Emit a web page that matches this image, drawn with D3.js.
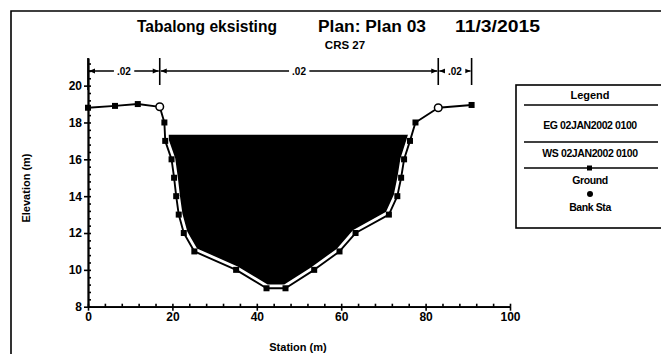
<!DOCTYPE html>
<html>
<head>
<meta charset="utf-8">
<script src="https://cdn.jsdelivr.net/npm/d3@7"></script>
<style>
  body { margin: 0; background: #fff; }
  text { font-family: "Liberation Sans", Arial, sans-serif; font-weight: bold; fill: #000; }
</style>
</head>
<body>
<svg id="chart" width="661" height="354"></svg>
<script>
// Cross section CRS 27 — ground survey points (station m, elevation m)
const stations   = [0, 6.4, 11.8, 17.0, 18.1, 18.3, 19.8, 20.4, 20.9, 21.5, 22.7, 25.2, 35.1, 42.3,
                    46.8, 53.6, 59.6, 63.4, 71.3, 73.3, 74.2, 74.9, 76.3, 77.6, 83.0, 90.9];
const elevations = [18.8, 18.9, 19.0, 18.85, 18.0, 17.0, 16.0, 15.0, 14.0, 13.0, 12.0, 11.0, 10.0, 9.0,
                    9.0, 10.0, 11.0, 12.0, 13.0, 14.0, 15.0, 16.0, 17.0, 18.0, 18.8, 18.95];
const bankStations = [17.0, 83.0];
const wsElevation = 17.33;          // WS 02JAN2002 0100
const nBreaks = [0, 17.0, 83.0, 90.9];
const nValues = [".02", ".02", ".02"];
const xTicks = [0, 20, 40, 60, 80, 100];
const yTicks = [8, 10, 12, 14, 16, 18, 20];
const titleParts = ["Tabalong eksisting", "Plan: Plan 03", "11/3/2015"];
const subtitle = "CRS 27";
const legendItems = ["EG 02JAN2002 0100", "WS 02JAN2002 0100", "Ground", "Bank Sta"];

const svg = d3.select("#chart");
const x = d3.scaleLinear().domain([0, 100]).range([88, 510]);
const y = d3.scaleLinear().domain([8, 21.5]).range([306.7, 58]);

// page frame
svg.append("path").attr("d", "M11,360 V11 H670")
  .attr("fill", "none").attr("stroke", "#000").attr("stroke-width", 1.6);

// titles
const titleX = [137, 318, 455];
const titleW = [140, 108, 85];
titleParts.forEach((t, i) => {
  svg.append("text").attr("x", titleX[i]).attr("y", 32).attr("font-size", 16)
    .attr("textLength", titleW[i]).attr("lengthAdjust", "spacingAndGlyphs").text(t);
});
svg.append("text").attr("x", 345).attr("y", 49).attr("font-size", 11.5)
  .attr("text-anchor", "middle").text(subtitle);

// water area under WS, bounded by ground
const pts = stations.map((s, i) => [s, elevations[i]]);
function crossing(a, b, z) {
  const t = (z - a[1]) / (b[1] - a[1]);
  return [a[0] + t * (b[0] - a[0]), z];
}
const water = [];
for (let i = 0; i < pts.length - 1; i++) {
  const a = pts[i], b = pts[i + 1];
  if (a[1] < wsElevation) water.push(a);
  if ((a[1] - wsElevation) * (b[1] - wsElevation) < 0) water.push(crossing(a, b, wsElevation));
}
const line = d3.line().x(d => x(d[0])).y(d => y(d[1]));
svg.append("path").attr("d", line(water) + "Z").attr("fill", "#000");

// ground line: white halo then black line
svg.append("path").attr("d", line(pts)).attr("fill", "none")
  .attr("stroke", "#fff").attr("stroke-width", 7.5).attr("stroke-linejoin", "round");
svg.append("path").attr("d", line(pts)).attr("fill", "none")
  .attr("stroke", "#000").attr("stroke-width", 1.9).attr("stroke-linejoin", "round");

// ground markers
svg.append("g").selectAll("rect")
  .data(pts.filter(p => !bankStations.includes(p[0])))
  .join("rect")
  .attr("x", d => x(d[0]) - 3).attr("y", d => y(d[1]) - 3)
  .attr("width", 6).attr("height", 6).attr("fill", "#000");

// bank stations
svg.append("g").selectAll("circle")
  .data(pts.filter(p => bankStations.includes(p[0])))
  .join("circle")
  .attr("cx", d => x(d[0])).attr("cy", d => y(d[1])).attr("r", 3.8)
  .attr("fill", "#fff").attr("stroke", "#000").attr("stroke-width", 1.5);

// axes
function styleAxis(g) {
  g.selectAll("path.domain").attr("stroke", "#000").attr("stroke-width", 1.8);
  g.selectAll("line").attr("stroke", "#000").attr("stroke-width", 1.6);
  g.selectAll("text").attr("font-size", 12).attr("font-family", "Liberation Sans, Arial, sans-serif")
    .attr("font-weight", "bold");
}
const yMinor = d3.range(8, 21.3, 0.4).map(v => +v.toFixed(1));
svg.append("g").attr("transform", "translate(88,0)")
  .call(d3.axisRight(y).tickValues(yMinor).tickSize(3).tickSizeOuter(0).tickFormat(""))
  .call(styleAxis);
svg.append("g").attr("transform", "translate(88,0)")
  .call(d3.axisLeft(y).tickValues(yTicks).tickSize(4).tickSizeOuter(0).tickPadding(2))
  .call(styleAxis);

const xMinor = d3.range(0, 100.1, 4);
svg.append("g").attr("transform", "translate(0,306.7)")
  .call(d3.axisTop(x).tickValues(xMinor).tickSize(3).tickSizeOuter(0).tickFormat(""))
  .call(styleAxis);
svg.append("g").attr("transform", "translate(0,306.7)")
  .call(d3.axisBottom(x).tickValues(xTicks).tickSize(4).tickSizeOuter(0).tickPadding(2))
  .call(styleAxis);

svg.append("text").attr("x", 298).attr("y", 351).attr("font-size", 11)
  .attr("text-anchor", "middle").text("Station (m)");
svg.append("text").attr("transform", "translate(30,188) rotate(-90)").attr("font-size", 11)
  .attr("text-anchor", "middle").text("Elevation (m)");

// Manning's n regions along the top
const nY = 71;
const nRow = svg.append("g");
nBreaks.forEach((s, i) => {
  nRow.append("line").attr("x1", x(s)).attr("x2", x(s))
    .attr("y1", 58).attr("y2", i === 0 ? 90 : 85)
    .attr("stroke", "#000").attr("stroke-width", 1.6);
});
for (let i = 0; i < nValues.length; i++) {
  const x0 = x(nBreaks[i]) + 1, x1 = x(nBreaks[i + 1]) - 1;
  nRow.append("line").attr("x1", x0).attr("x2", x1).attr("y1", nY).attr("y2", nY)
    .attr("stroke", "#000").attr("stroke-width", 1.4);
  nRow.append("path").attr("d", `M${x0},${nY} l6,-2.6 v5.2 Z M${x1},${nY} l-6,-2.6 v5.2 Z`)
    .attr("fill", "#000");
  const cx = (x0 + x1) / 2;
  const lbl = nRow.append("text").attr("x", cx).attr("y", nY + 4).attr("font-size", 10)
    .attr("text-anchor", "middle").text(nValues[i]);
  const bb = lbl.node().getBBox();
  nRow.insert("rect", "text:last-of-type")
    .attr("x", bb.x - 3).attr("y", bb.y).attr("width", bb.width + 6).attr("height", bb.height)
    .attr("fill", "#fff");
}

// legend
const lg = svg.append("g");
lg.append("rect").attr("x", 516).attr("y", 85).attr("width", 160).attr("height", 143)
  .attr("fill", "#fff").attr("stroke", "#000").attr("stroke-width", 1.6);
lg.append("text").attr("x", 590).attr("y", 99).attr("font-size", 11)
  .attr("text-anchor", "middle").text("Legend");
// sample lines for EG and WS
[105, 142].forEach(yy => {
  lg.append("line").attr("x1", 524).attr("x2", 658).attr("y1", yy).attr("y2", yy)
    .attr("stroke", "#000").attr("stroke-width", 1.6);
});
lg.append("line").attr("x1", 524).attr("x2", 658).attr("y1", 168).attr("y2", 168)
  .attr("stroke", "#000").attr("stroke-width", 1.4);
lg.append("rect").attr("x", 587).attr("y", 165.5).attr("width", 5).attr("height", 5).attr("fill", "#000");
lg.append("circle").attr("cx", 590).attr("cy", 194).attr("r", 3).attr("fill", "#000");
const legendY = [129, 157, 184, 211];
legendItems.forEach((t, i) => {
  lg.append("text").attr("x", 590).attr("y", legendY[i]).attr("font-size", 10.5)
    .attr("text-anchor", "middle").attr("letter-spacing", -0.4).text(t);
});
</script>
</body>
</html>
